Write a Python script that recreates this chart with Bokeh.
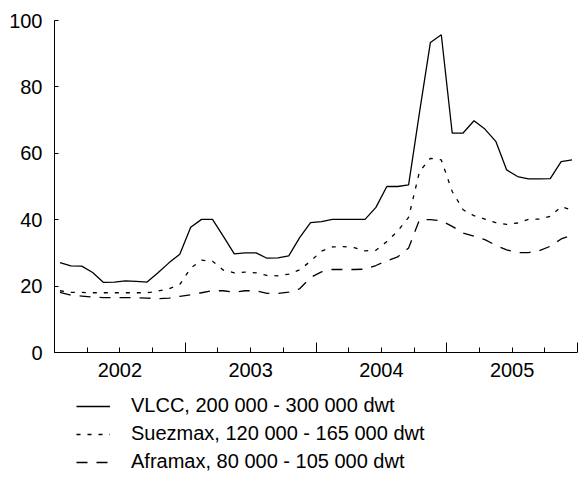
from bokeh.plotting import figure
from bokeh.layouts import column
from bokeh.models import Range1d, FixedTicker, LinearAxis, Legend, LegendItem
from bokeh.embed import file_html
from bokeh.resources import INLINE

# ---- data (monthly, Jan 2002 - Dec 2005) ----
years = ["2002", "2003", "2004", "2005"]
y_ticks = [0, 20, 40, 60, 80, 100]
series_labels = [
    "VLCC, 200 000 - 300 000 dwt",
    "Suezmax, 120 000 - 165 000 dwt",
    "Aframax, 80 000 - 105 000 dwt",
]
vlcc = [27.1, 26.1, 26.0, 24.1, 21.1, 21.2, 21.6, 21.4, 21.2, 24.0, 27.0, 29.6,
        37.7, 40.1, 40.1, 35.0, 29.7, 30.0, 30.0, 28.4, 28.5, 29.1, 34.6, 39.1,
        39.4, 40.1, 40.1, 40.1, 40.1, 43.7, 50.0, 50.0, 50.5, 72.3, 93.4, 95.7,
        66.1, 66.1, 69.8, 67.3, 63.6, 55.0, 53.0, 52.3, 52.3, 52.4, 57.5, 58.0]
suezmax = [18.6, 18.1, 18.1, 18.0, 18.0, 18.0, 18.0, 18.0, 18.0, 18.5, 19.2, 20.5,
           25.4, 27.8, 27.5, 24.8, 24.0, 24.2, 24.0, 23.2, 23.1, 23.6, 24.9, 27.5,
           30.5, 31.8, 31.9, 31.6, 30.6, 30.8, 33.4, 36.6, 40.7, 54.5, 58.5, 58.0,
           48.5, 43.0, 41.2, 40.2, 39.1, 38.6, 39.0, 40.1, 40.2, 41.0, 43.9, 42.9]
aframax = [18.1, 17.3, 17.0, 16.7, 16.5, 16.5, 16.5, 16.5, 16.4, 16.2, 16.4, 16.9,
           17.4, 18.0, 18.6, 18.6, 18.2, 18.6, 18.6, 17.8, 17.8, 18.2, 19.2, 22.6,
           24.3, 25.0, 25.0, 25.0, 25.1, 26.2, 27.6, 28.8, 31.5, 40.0, 40.0, 39.7,
           38.0, 36.0, 35.0, 34.0, 32.3, 30.9, 30.1, 30.1, 30.7, 32.0, 34.2, 35.4]

start_year = int(years[0])
end_year = int(years[-1]) + 1
x = [start_year + (i + 0.5) / 12 for i in range(len(vlcc))]
series = [vlcc, suezmax, aframax]

FONT = "Liberation Sans"
STYLES = [dict(line_color="black", line_width=1.3),
          dict(line_color="black", line_width=1.3, line_dash="4 7"),
          dict(line_color="black", line_width=1.3, line_dash="11 9")]

p = figure(width=578, height=395, output_backend="svg", toolbar_location=None,
           x_range=Range1d(start_year, end_year), y_range=Range1d(0, 100),
           min_border_left=54, min_border_right=1, min_border_top=20,
           min_border_bottom=43)
p.outline_line_color = None
p.grid.visible = False

for ys, st in zip(series, STYLES):
    p.line(x, ys, **st)

# y axis
ya = p.yaxis[0]
ya.ticker = FixedTicker(ticks=y_ticks, minor_ticks=[])
ya.major_tick_in = 4
ya.major_tick_out = 0
ya.minor_tick_in = 0
ya.minor_tick_out = 0
ya.axis_line_color = "black"
ya.major_tick_line_color = "black"
ya.major_label_text_font = FONT
ya.major_label_text_font_size = "20px"
ya.major_label_text_color = "black"
ya.major_label_standoff = 12

# x axis: tick marks at year boundaries (major) and quarters (minor)
bounds = list(range(start_year, end_year + 1))
quarters = [b + q / 4 for b in bounds[:-1] for q in (1, 2, 3)]
xa = p.xaxis[0]
xa.ticker = FixedTicker(ticks=bounds, minor_ticks=quarters)
xa.major_tick_in = 10
xa.major_tick_out = 0
xa.minor_tick_in = 5
xa.minor_tick_out = 0
xa.axis_line_color = "black"
xa.major_tick_line_color = "black"
xa.minor_tick_line_color = "black"
xa.major_label_overrides = {b: "" for b in bounds}
xa.major_label_text_font_size = "1px"
xa.major_label_standoff = 0

# x axis labels centred in each year
mids = [int(y) + 0.5 for y in years]
xl = LinearAxis(ticker=FixedTicker(ticks=mids, minor_ticks=[]),
                major_label_overrides={m: y for m, y in zip(mids, years)})
xl.axis_line_color = None
xl.major_tick_line_color = None
xl.minor_tick_line_color = None
xl.major_tick_out = 0
xl.major_tick_in = 0
xl.major_label_text_font = FONT
xl.major_label_text_font_size = "20px"
xl.major_label_text_color = "black"
xl.major_label_standoff = 10
p.add_layout(xl, "below")

# legend panel underneath (its lines lie outside its ranges, only the legend shows)
q = figure(width=578, height=85, output_backend="svg", toolbar_location=None,
           x_range=Range1d(0, 1), y_range=Range1d(0, 1),
           x_axis_type=None, y_axis_type=None, min_border=0)
q.outline_line_color = None
q.grid.visible = False
rs = [q.line(x, ys, **st) for ys, st in zip(series, STYLES)]
legend = Legend(items=[LegendItem(label=lab, renderers=[r])
                       for lab, r in zip(series_labels, rs)],
                location=(22, 7), orientation="vertical",
                glyph_width=34, glyph_height=20, label_height=20,
                label_standoff=21, spacing=5, padding=0, margin=0,
                border_line_color=None, background_fill_alpha=0,
                label_text_font=FONT, label_text_font_size="20px",
                label_text_color="black")
q.add_layout(legend)

layout = column(p, q, spacing=0)
open("out.html", "w").write(file_html(layout, INLINE))
